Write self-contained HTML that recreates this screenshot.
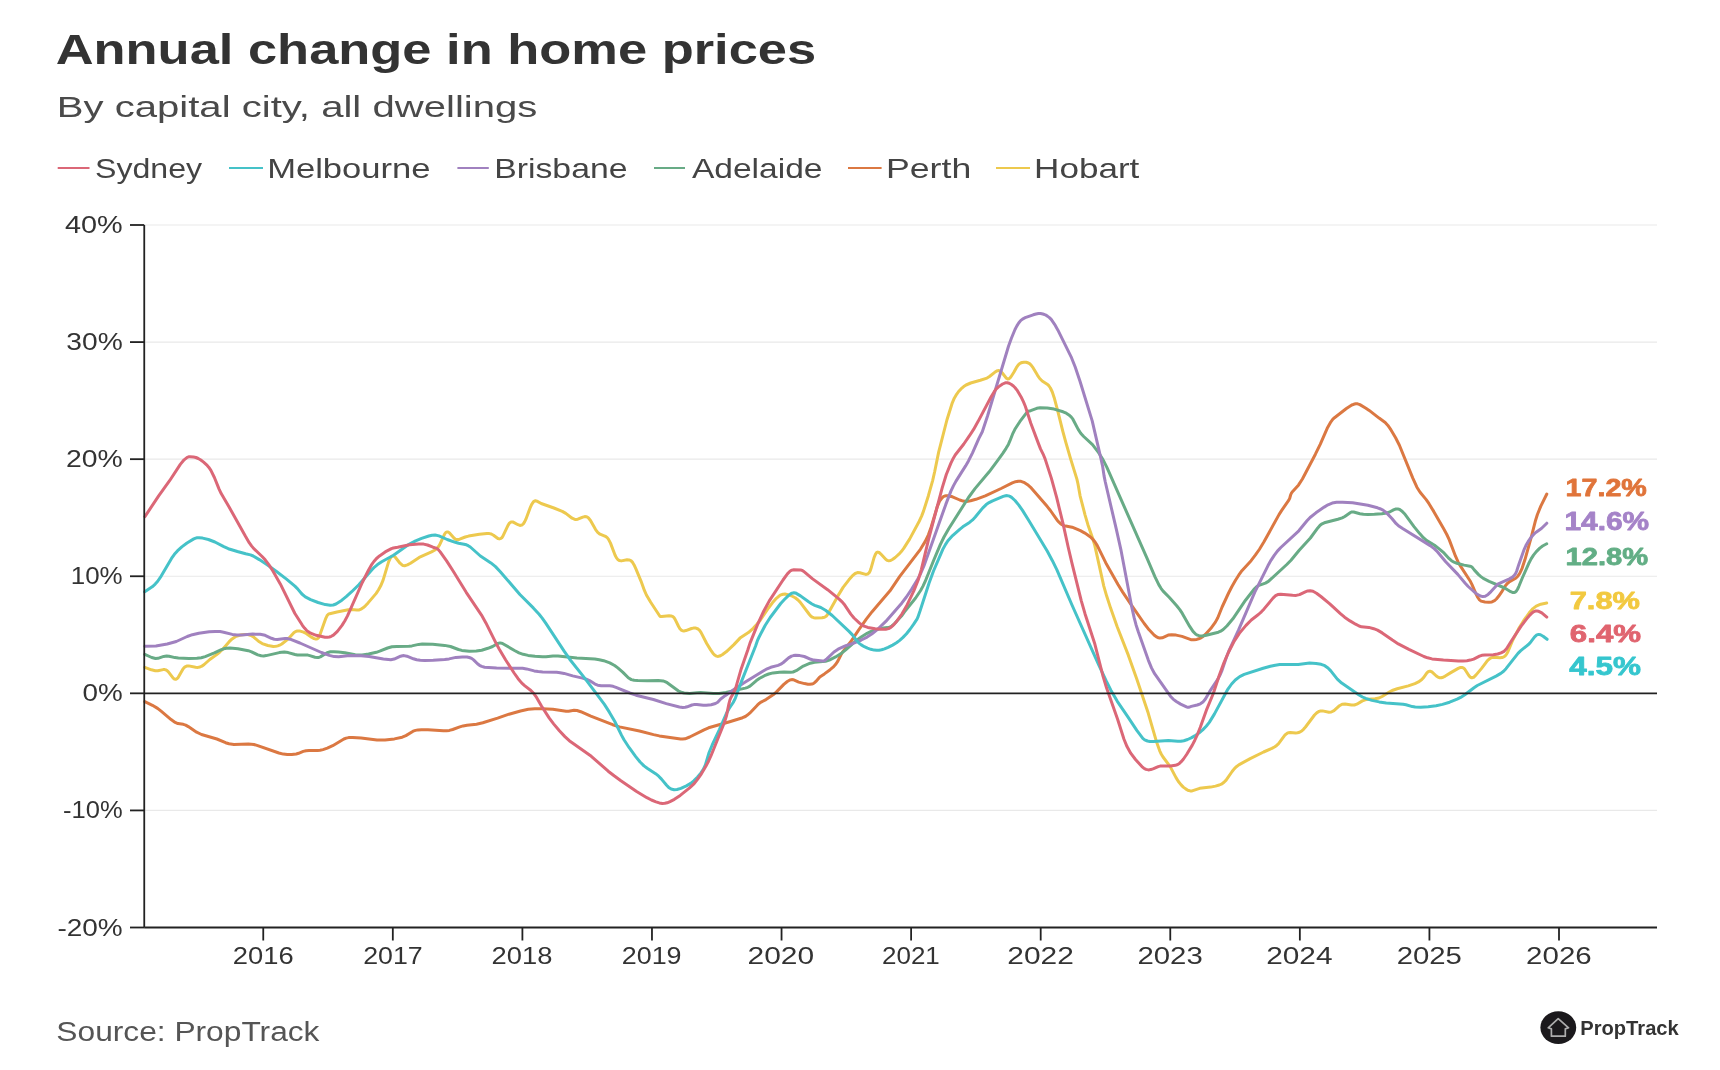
<!DOCTYPE html><html><head><meta charset="utf-8"><style>html,body{margin:0;padding:0;background:#fff;}svg{display:block;will-change:transform;}text{font-family:"Liberation Sans",sans-serif;}</style></head><body>
<svg width="1720" height="1070" viewBox="0 0 1720 1070">
<rect width="1720" height="1070" fill="#fff"/>
<text x="55.69" y="64.00" font-size="42.18" font-weight="bold" fill="#333" textLength="760.46" lengthAdjust="spacingAndGlyphs">Annual change in home prices</text>
<text x="56.69" y="116.50" font-size="30.40" fill="#4a4a4a" textLength="480.68" lengthAdjust="spacingAndGlyphs">By capital city, all dwellings</text>
<line x1="57.7" y1="168" x2="89.5" y2="168" stroke="#DB6777" stroke-width="2"/>
<text x="95.06" y="178.00" font-size="27.05" fill="#444" textLength="107.04" lengthAdjust="spacingAndGlyphs">Sydney</text>
<line x1="229" y1="168" x2="263" y2="168" stroke="#45C2C8" stroke-width="2"/>
<text x="267.15" y="178.00" font-size="27.05" fill="#444" textLength="163.33" lengthAdjust="spacingAndGlyphs">Melbourne</text>
<line x1="457.4" y1="168" x2="488.8" y2="168" stroke="#A081BF" stroke-width="2"/>
<text x="494.21" y="178.00" font-size="27.05" fill="#444" textLength="133.28" lengthAdjust="spacingAndGlyphs">Brisbane</text>
<line x1="654" y1="168" x2="685" y2="168" stroke="#68AB86" stroke-width="2"/>
<text x="691.92" y="178.00" font-size="27.05" fill="#444" textLength="130.58" lengthAdjust="spacingAndGlyphs">Adelaide</text>
<line x1="848" y1="168" x2="881.6" y2="168" stroke="#DB7842" stroke-width="2"/>
<text x="886.06" y="178.00" font-size="27.05" fill="#444" textLength="85.17" lengthAdjust="spacingAndGlyphs">Perth</text>
<line x1="996" y1="168" x2="1030" y2="168" stroke="#EDC94E" stroke-width="2"/>
<text x="1034.11" y="178.00" font-size="27.05" fill="#444" textLength="105.21" lengthAdjust="spacingAndGlyphs">Hobart</text>
<line x1="145.25" y1="225.00" x2="1657" y2="225.00" stroke="#e9e9e9" stroke-width="1.2"/>
<line x1="145.25" y1="342.08" x2="1657" y2="342.08" stroke="#e9e9e9" stroke-width="1.2"/>
<line x1="145.25" y1="459.17" x2="1657" y2="459.17" stroke="#e9e9e9" stroke-width="1.2"/>
<line x1="145.25" y1="576.25" x2="1657" y2="576.25" stroke="#e9e9e9" stroke-width="1.2"/>
<line x1="145.25" y1="810.42" x2="1657" y2="810.42" stroke="#e9e9e9" stroke-width="1.2"/>
<text x="65.05" y="233.00" font-size="23.27" fill="#333" textLength="57.73" lengthAdjust="spacingAndGlyphs">40%</text>
<line x1="130" y1="225.00" x2="144.25" y2="225.00" stroke="#222" stroke-width="1.8"/>
<text x="66.34" y="350.08" font-size="23.27" fill="#333" textLength="56.42" lengthAdjust="spacingAndGlyphs">30%</text>
<line x1="130" y1="342.08" x2="144.25" y2="342.08" stroke="#222" stroke-width="1.8"/>
<text x="65.98" y="467.17" font-size="23.27" fill="#333" textLength="56.78" lengthAdjust="spacingAndGlyphs">20%</text>
<line x1="130" y1="459.17" x2="144.25" y2="459.17" stroke="#222" stroke-width="1.8"/>
<text x="70.75" y="584.25" font-size="23.27" fill="#333" textLength="51.93" lengthAdjust="spacingAndGlyphs">10%</text>
<line x1="130" y1="576.25" x2="144.25" y2="576.25" stroke="#222" stroke-width="1.8"/>
<text x="82.59" y="701.33" font-size="23.27" fill="#333" textLength="40.20" lengthAdjust="spacingAndGlyphs">0%</text>
<line x1="130" y1="693.33" x2="144.25" y2="693.33" stroke="#222" stroke-width="1.8"/>
<text x="63.05" y="818.42" font-size="23.27" fill="#333" textLength="59.63" lengthAdjust="spacingAndGlyphs">-10%</text>
<line x1="130" y1="810.42" x2="144.25" y2="810.42" stroke="#222" stroke-width="1.8"/>
<text x="57.44" y="935.50" font-size="23.27" fill="#333" textLength="65.33" lengthAdjust="spacingAndGlyphs">-20%</text>
<line x1="130" y1="927.50" x2="144.25" y2="927.50" stroke="#222" stroke-width="1.8"/>
<line x1="263.25" y1="927.5" x2="263.25" y2="940.5" stroke="#222" stroke-width="1.8"/>
<text x="232.88" y="963.80" font-size="23.85" fill="#333" textLength="60.84" lengthAdjust="spacingAndGlyphs">2016</text>
<line x1="392.82" y1="927.5" x2="392.82" y2="940.5" stroke="#222" stroke-width="1.8"/>
<text x="363.16" y="963.80" font-size="23.85" fill="#333" textLength="59.48" lengthAdjust="spacingAndGlyphs">2017</text>
<line x1="522.40" y1="927.5" x2="522.40" y2="940.5" stroke="#222" stroke-width="1.8"/>
<text x="491.63" y="963.80" font-size="23.85" fill="#333" textLength="60.84" lengthAdjust="spacingAndGlyphs">2018</text>
<line x1="651.97" y1="927.5" x2="651.97" y2="940.5" stroke="#222" stroke-width="1.8"/>
<text x="621.76" y="963.80" font-size="23.85" fill="#333" textLength="59.81" lengthAdjust="spacingAndGlyphs">2019</text>
<line x1="781.55" y1="927.5" x2="781.55" y2="940.5" stroke="#222" stroke-width="1.8"/>
<text x="747.50" y="963.80" font-size="23.85" fill="#333" textLength="66.58" lengthAdjust="spacingAndGlyphs">2020</text>
<line x1="911.12" y1="927.5" x2="911.12" y2="940.5" stroke="#222" stroke-width="1.8"/>
<text x="882.00" y="963.80" font-size="23.85" fill="#333" textLength="57.79" lengthAdjust="spacingAndGlyphs">2021</text>
<line x1="1040.70" y1="927.5" x2="1040.70" y2="940.5" stroke="#222" stroke-width="1.8"/>
<text x="1007.31" y="963.80" font-size="23.85" fill="#333" textLength="66.45" lengthAdjust="spacingAndGlyphs">2022</text>
<line x1="1170.27" y1="927.5" x2="1170.27" y2="940.5" stroke="#222" stroke-width="1.8"/>
<text x="1137.43" y="963.80" font-size="23.85" fill="#333" textLength="65.28" lengthAdjust="spacingAndGlyphs">2023</text>
<line x1="1299.85" y1="927.5" x2="1299.85" y2="940.5" stroke="#222" stroke-width="1.8"/>
<text x="1266.21" y="963.80" font-size="23.85" fill="#333" textLength="66.27" lengthAdjust="spacingAndGlyphs">2024</text>
<line x1="1429.42" y1="927.5" x2="1429.42" y2="940.5" stroke="#222" stroke-width="1.8"/>
<text x="1396.73" y="963.80" font-size="23.85" fill="#333" textLength="65.20" lengthAdjust="spacingAndGlyphs">2025</text>
<line x1="1559.00" y1="927.5" x2="1559.00" y2="940.5" stroke="#222" stroke-width="1.8"/>
<text x="1526.13" y="963.80" font-size="23.85" fill="#333" textLength="65.59" lengthAdjust="spacingAndGlyphs">2026</text>
<path d="M144.8,667.4 L151.4,669.8 L155.3,670.7 L157.8,670.7 L163.2,669.6 L164.7,669.6 L166.1,670.0 L167.3,670.8 L168.4,671.8 L173.2,678.1 L174.4,679.0 L175.7,679.3 L177.0,678.7 L178.0,677.7 L182.7,669.4 L183.9,667.8 L185.0,666.8 L186.7,666.1 L188.7,665.9 L195.6,667.2 L198.0,667.4 L200.0,667.0 L201.8,666.2 L204.2,664.5 L209.8,659.5 L216.7,654.6 L219.8,652.0 L222.7,649.2 L229.2,641.7 L232.1,638.9 L235.4,636.7 L238.7,635.5 L241.6,634.8 L245.1,634.4 L247.6,634.5 L249.5,635.0 L251.4,635.7 L253.1,636.6 L259.3,641.8 L262.2,643.6 L267.9,645.5 L273.3,646.4 L275.8,646.3 L277.8,645.9 L279.6,645.2 L281.8,644.0 L287.7,639.4 L293.8,632.8 L295.4,631.6 L297.2,631.0 L300.2,631.1 L303.5,632.1 L306.2,633.4 L311.9,637.4 L314.1,638.6 L316.0,639.1 L317.3,638.8 L318.4,637.9 L319.4,636.2 L325.8,618.3 L327.1,615.6 L328.4,614.2 L329.7,613.7 L337.0,612.0 L348.3,609.8 L351.3,609.6 L356.8,610.1 L359.2,609.9 L361.0,609.1 L363.1,607.8 L365.4,605.8 L368.1,602.9 L376.2,593.4 L378.4,590.0 L380.6,586.1 L383.1,580.1 L388.6,561.9 L390.2,558.3 L391.7,556.4 L392.6,556.0 L393.4,556.0 L395.1,557.0 L400.0,563.2 L402.3,565.2 L403.1,565.5 L404.6,565.7 L407.4,564.9 L410.5,563.2 L419.2,557.4 L431.5,551.9 L434.1,550.5 L436.2,549.0 L437.9,547.3 L439.6,544.8 L444.7,533.9 L445.9,532.4 L447.2,531.9 L448.1,532.0 L449.3,532.7 L454.2,538.3 L455.4,539.2 L456.8,539.6 L458.2,539.6 L459.7,539.2 L465.2,537.0 L468.6,536.1 L479.4,534.2 L486.9,533.5 L489.4,533.6 L491.3,534.0 L493.5,535.2 L497.9,538.5 L499.3,538.9 L500.6,538.6 L501.8,537.8 L502.9,536.2 L508.0,525.3 L509.4,523.2 L510.5,522.3 L511.8,521.9 L513.2,522.1 L518.0,524.7 L519.9,525.4 L521.8,525.1 L523.3,523.9 L524.6,521.9 L525.9,519.2 L530.1,507.9 L531.7,504.3 L533.4,501.8 L534.6,501.0 L535.5,500.8 L536.9,501.1 L541.2,503.5 L553.9,508.0 L562.3,511.4 L565.8,513.4 L572.1,518.2 L574.4,519.2 L575.8,519.5 L577.8,519.2 L582.8,517.1 L584.7,516.6 L586.6,516.7 L588.3,517.8 L590.5,520.5 L595.6,529.6 L597.7,532.4 L600.0,534.2 L604.2,535.8 L606.0,536.7 L607.2,537.6 L608.4,539.1 L610.5,543.1 L615.1,555.2 L616.5,557.9 L617.7,559.4 L619.3,560.5 L621.3,560.9 L627.1,559.8 L629.1,559.9 L630.9,560.6 L632.6,562.4 L634.1,564.9 L635.8,568.6 L641.0,581.1 L644.4,590.4 L646.4,595.0 L650.7,602.3 L659.9,616.3 L660.5,616.5 L661.7,616.5 L669.1,615.7 L671.1,615.9 L672.9,616.7 L674.0,617.7 L675.1,619.3 L678.6,626.5 L679.9,628.7 L681.2,630.1 L682.5,630.8 L683.9,630.9 L685.9,630.6 L691.5,628.5 L693.4,628.1 L695.9,628.1 L698.1,629.0 L699.6,630.4 L701.0,632.4 L706.7,643.5 L710.6,649.9 L712.9,653.2 L714.6,655.1 L716.2,656.1 L717.6,656.4 L719.6,656.1 L722.2,654.7 L726.2,651.8 L733.9,644.6 L740.0,638.1 L748.4,632.6 L753.2,628.3 L756.9,624.3 L760.4,620.0 L768.5,608.0 L772.4,602.8 L776.4,598.3 L780.2,595.1 L783.0,594.2 L785.0,594.1 L787.0,594.4 L791.3,595.7 L795.2,597.8 L798.0,600.0 L800.1,602.1 L809.4,614.5 L810.7,616.0 L812.3,617.2 L813.7,617.7 L815.6,617.9 L822.1,617.7 L824.5,617.2 L826.2,616.2 L827.4,614.7 L837.9,595.9 L843.1,587.4 L848.9,579.8 L852.5,575.7 L855.2,573.5 L857.5,572.6 L859.9,572.8 L865.7,574.4 L867.6,574.1 L869.0,572.9 L870.0,571.2 L870.9,568.8 L874.0,557.8 L875.5,554.1 L876.6,552.5 L877.8,552.1 L879.1,552.5 L880.6,553.8 L885.7,559.3 L887.3,560.4 L888.7,560.8 L890.6,560.5 L892.8,559.3 L895.2,557.5 L898.9,554.2 L901.3,551.6 L903.7,548.4 L909.6,539.1 L919.1,521.5 L921.6,516.1 L923.6,510.9 L928.4,495.7 L932.7,480.3 L934.6,472.0 L938.6,452.4 L946.9,420.0 L952.3,402.8 L954.3,398.2 L956.6,394.3 L958.6,391.5 L961.0,388.9 L963.7,386.6 L966.1,385.0 L970.7,383.0 L980.3,380.3 L987.0,378.1 L989.5,376.5 L995.3,371.8 L997.5,370.7 L998.9,370.6 L1000.7,371.4 L1002.1,372.8 L1006.4,378.2 L1007.7,378.9 L1009.0,378.7 L1010.1,377.9 L1011.0,376.7 L1013.7,372.5 L1016.9,366.8 L1018.3,364.8 L1019.4,363.8 L1020.7,363.0 L1022.1,362.5 L1024.0,362.2 L1026.0,362.2 L1027.9,362.8 L1029.6,363.7 L1031.1,365.1 L1033.2,367.9 L1037.7,375.6 L1039.7,378.5 L1042.2,381.0 L1046.8,383.9 L1048.7,385.5 L1050.4,388.0 L1052.3,392.0 L1054.2,397.7 L1057.6,410.3 L1062.9,431.6 L1065.9,442.7 L1070.7,459.1 L1076.9,479.1 L1078.0,484.0 L1080.1,495.8 L1085.1,515.1 L1087.9,524.7 L1092.7,538.5 L1094.6,544.7 L1103.8,586.1 L1106.6,595.8 L1110.6,608.1 L1117.1,626.5 L1128.4,655.4 L1136.6,678.5 L1148.2,713.1 L1156.4,741.4 L1159.7,750.8 L1161.2,754.0 L1163.0,757.0 L1170.2,766.6 L1176.0,777.6 L1178.4,781.5 L1180.9,784.6 L1183.3,787.1 L1185.7,788.9 L1187.8,790.2 L1190.2,790.9 L1192.1,790.9 L1199.7,788.3 L1210.6,787.1 L1215.5,786.1 L1219.3,785.0 L1222.0,783.8 L1224.0,782.3 L1226.1,780.1 L1232.1,771.5 L1234.2,768.8 L1236.4,766.7 L1238.8,764.9 L1250.2,758.6 L1263.6,752.0 L1271.9,748.4 L1274.9,746.7 L1276.9,745.2 L1278.4,743.8 L1284.3,735.8 L1285.7,734.4 L1287.3,733.2 L1288.7,732.7 L1290.2,732.5 L1295.7,732.9 L1297.6,732.8 L1299.5,732.3 L1301.7,731.0 L1303.5,729.3 L1305.5,727.0 L1314.5,715.0 L1317.0,712.6 L1319.1,711.4 L1320.5,711.0 L1322.5,710.9 L1328.9,712.2 L1331.3,712.0 L1334.0,710.7 L1339.5,705.7 L1342.1,704.3 L1345.1,704.0 L1351.5,705.0 L1354.4,705.0 L1356.8,704.2 L1362.4,700.9 L1365.2,699.8 L1368.1,699.3 L1375.1,698.8 L1379.0,698.0 L1382.1,696.5 L1389.3,692.0 L1392.9,690.2 L1397.2,688.8 L1408.3,685.9 L1414.9,683.6 L1418.5,681.9 L1421.8,679.6 L1423.4,677.8 L1426.9,672.9 L1428.0,671.9 L1429.2,671.2 L1430.6,671.3 L1431.9,671.9 L1436.3,676.0 L1437.9,677.1 L1439.8,677.8 L1441.2,677.8 L1443.1,677.2 L1444.9,676.3 L1450.4,672.9 L1458.2,668.4 L1460.0,667.6 L1462.0,667.5 L1463.3,667.9 L1464.8,669.2 L1468.8,675.5 L1470.1,677.0 L1470.9,677.5 L1471.8,677.8 L1473.6,677.3 L1476.1,674.9 L1481.6,668.4 L1486.7,661.6 L1488.3,659.8 L1489.9,658.5 L1491.6,657.6 L1493.5,657.2 L1500.0,657.7 L1502.0,657.6 L1503.8,656.9 L1505.4,655.7 L1506.6,654.1 L1507.8,652.0 L1512.8,640.0 L1518.6,628.9 L1523.3,621.2 L1529.1,613.1 L1533.0,608.6 L1536.2,606.1 L1540.8,604.2 L1546.7,603.0" fill="none" stroke="#EDC94E" stroke-width="3.0" stroke-linejoin="round" stroke-linecap="round"/>
<path d="M144.8,701.6 L152.4,705.3 L157.6,708.4 L161.1,711.2 L171.1,719.6 L175.2,722.4 L177.9,723.6 L183.3,724.3 L185.7,725.1 L188.3,726.6 L196.6,732.2 L201.5,734.5 L216.9,739.0 L225.6,742.7 L229.0,743.8 L233.9,744.4 L248.4,744.0 L253.9,744.5 L257.7,745.6 L278.9,753.0 L283.3,754.1 L287.3,754.6 L291.7,754.6 L296.2,754.0 L298.6,753.3 L303.2,751.4 L306.1,750.7 L309.1,750.5 L317.6,750.5 L320.1,750.3 L323.0,749.6 L327.3,748.1 L332.7,745.7 L343.9,739.0 L346.2,738.1 L348.6,737.6 L352.6,737.5 L361.1,738.1 L377.0,740.0 L385.0,740.0 L394.4,738.9 L402.2,737.2 L405.9,735.6 L413.1,731.2 L415.5,730.4 L418.0,729.9 L421.4,729.7 L427.9,729.7 L443.4,730.8 L446.4,730.8 L449.4,730.4 L452.7,729.5 L459.8,726.9 L463.1,725.9 L467.0,725.2 L476.5,724.2 L482.8,722.8 L497.6,718.1 L509.0,714.2 L520.5,711.0 L528.3,709.3 L534.8,708.7 L542.3,708.7 L552.8,709.3 L566.1,711.3 L568.6,711.2 L574.0,710.3 L577.0,710.5 L580.8,711.7 L590.8,716.2 L612.7,724.7 L619.4,726.9 L639.5,731.0 L653.5,734.6 L659.4,735.9 L680.6,739.1 L682.6,739.1 L685.1,738.8 L689.7,737.0 L704.0,729.8 L708.6,727.8 L729.7,721.7 L742.6,717.7 L745.4,716.5 L747.4,715.1 L749.7,713.2 L757.3,705.2 L759.5,703.2 L761.1,702.1 L766.0,699.6 L773.1,694.8 L776.5,691.9 L783.8,684.4 L787.3,681.5 L789.9,680.0 L791.8,679.6 L793.2,679.7 L798.7,682.1 L804.5,683.6 L807.9,684.2 L809.9,684.3 L811.9,684.1 L813.3,683.6 L814.5,682.8 L815.9,681.4 L819.8,676.9 L824.4,673.9 L830.1,669.7 L833.1,667.2 L835.5,664.6 L837.5,661.7 L841.1,654.6 L842.9,651.6 L850.7,641.8 L858.2,630.6 L866.3,619.2 L872.1,611.7 L890.0,590.8 L899.6,576.7 L920.4,549.3 L925.1,541.6 L928.4,534.8 L931.1,527.3 L937.4,506.3 L939.6,501.2 L941.9,498.0 L943.4,496.7 L944.8,496.0 L946.2,495.7 L947.7,495.7 L952.5,496.8 L959.8,500.0 L963.2,501.1 L966.6,501.4 L970.6,500.8 L975.9,499.3 L985.3,495.9 L1001.1,488.5 L1012.3,482.9 L1015.6,481.7 L1018.5,481.2 L1021.0,481.3 L1023.8,482.3 L1027.6,484.7 L1030.6,487.3 L1047.3,506.6 L1050.4,510.5 L1057.0,519.9 L1059.0,522.2 L1060.8,523.9 L1063.8,525.6 L1065.7,526.1 L1072.1,527.2 L1080.4,530.7 L1084.4,532.8 L1087.7,535.0 L1090.9,537.4 L1093.0,539.5 L1095.2,542.3 L1097.3,545.6 L1105.7,562.7 L1118.0,584.5 L1122.7,592.1 L1131.6,605.4 L1144.2,623.5 L1149.1,629.8 L1154.3,635.2 L1157.1,637.2 L1158.5,637.8 L1159.9,638.1 L1162.3,637.8 L1168.2,635.1 L1171.6,634.7 L1176.1,635.1 L1182.0,636.4 L1190.9,639.7 L1193.8,639.8 L1196.8,639.4 L1198.7,638.8 L1201.0,637.8 L1203.0,636.4 L1205.3,634.4 L1210.7,628.6 L1215.4,622.1 L1217.8,617.7 L1222.1,607.0 L1228.6,593.0 L1231.8,586.7 L1235.5,580.2 L1238.7,575.2 L1241.9,570.7 L1251.1,560.7 L1255.3,555.2 L1259.3,549.5 L1264.0,541.8 L1279.0,514.6 L1281.7,510.4 L1288.8,500.2 L1289.7,498.4 L1290.6,495.0 L1291.4,493.2 L1292.9,491.2 L1298.6,484.9 L1302.4,479.0 L1315.4,454.2 L1320.2,444.3 L1327.2,428.3 L1330.9,421.8 L1332.7,419.4 L1334.5,417.7 L1346.4,408.5 L1351.8,405.0 L1353.7,404.3 L1355.6,403.8 L1357.6,403.8 L1359.9,404.6 L1365.9,408.2 L1369.2,410.4 L1379.1,418.1 L1385.2,422.4 L1387.9,425.4 L1391.0,429.9 L1395.6,437.7 L1399.4,445.2 L1412.8,478.1 L1416.9,487.2 L1420.1,492.3 L1426.2,499.6 L1429.0,503.7 L1433.7,511.4 L1443.4,528.3 L1446.8,534.5 L1449.3,539.9 L1455.5,556.2 L1458.2,562.2 L1461.0,566.9 L1470.0,580.7 L1472.0,584.7 L1476.2,594.4 L1477.8,597.5 L1479.5,599.9 L1481.1,601.1 L1484.9,602.0 L1488.9,602.3 L1491.9,601.9 L1494.5,600.7 L1496.4,599.0 L1498.6,596.3 L1501.5,592.2 L1505.4,585.8 L1507.3,583.5 L1509.6,581.6 L1515.7,578.3 L1517.8,576.2 L1519.6,573.7 L1522.1,568.3 L1524.9,559.8 L1531.4,536.7 L1535.6,520.2 L1537.4,514.5 L1540.8,506.1 L1546.8,494.0" fill="none" stroke="#DB7842" stroke-width="3.0" stroke-linejoin="round" stroke-linecap="round"/>
<path d="M144.8,654.4 L151.7,657.5 L155.5,658.5 L158.0,658.3 L163.7,656.4 L166.6,656.0 L169.1,656.2 L174.9,657.6 L178.4,658.0 L188.9,658.4 L196.9,658.3 L201.3,657.7 L205.2,656.6 L214.4,652.9 L220.8,649.9 L223.6,648.8 L226.5,648.2 L230.0,648.0 L237.9,648.7 L248.3,650.7 L251.6,651.8 L257.8,654.9 L261.2,655.8 L263.7,655.9 L266.2,655.6 L279.3,652.6 L284.3,652.1 L288.2,652.6 L295.0,654.5 L297.4,655.0 L307.9,655.1 L309.8,655.6 L315.0,657.3 L317.5,657.6 L318.9,657.4 L320.3,656.9 L327.1,652.7 L330.4,651.8 L333.9,651.7 L338.4,652.0 L344.9,652.7 L355.2,654.8 L358.2,655.0 L362.1,654.9 L368.6,654.0 L376.4,652.3 L379.7,651.2 L387.6,648.0 L391.9,646.8 L396.9,646.4 L408.9,646.3 L411.9,645.9 L418.7,644.4 L422.2,644.1 L432.7,644.3 L444.6,645.4 L450.5,646.5 L458.4,649.5 L461.8,650.4 L469.3,651.2 L476.3,651.1 L481.7,650.2 L487.9,648.3 L492.6,646.5 L497.7,643.5 L500.1,642.9 L501.5,643.2 L502.9,643.7 L514.5,650.5 L519.0,652.8 L523.2,654.3 L528.1,655.4 L535.0,656.3 L542.5,656.8 L546.0,656.7 L553.0,656.0 L558.0,656.0 L576.9,658.0 L594.8,659.0 L599.3,659.7 L603.7,660.7 L609.8,662.9 L614.6,665.5 L617.8,667.9 L622.7,672.1 L628.3,677.8 L631.3,679.6 L634.2,680.3 L637.7,680.6 L647.2,680.8 L658.2,680.4 L663.1,680.9 L665.0,681.6 L667.2,682.7 L678.5,691.0 L681.2,692.2 L684.1,693.0 L689.6,693.5 L697.0,692.7 L700.5,692.5 L713.5,693.5 L719.0,693.4 L725.9,692.4 L745.4,688.1 L747.8,687.3 L750.0,686.1 L756.4,680.6 L759.7,678.3 L764.5,675.7 L768.7,674.0 L773.1,672.9 L779.5,672.2 L784.0,671.9 L790.5,672.3 L793.0,672.0 L796.2,670.7 L803.3,666.1 L810.2,663.2 L814.6,662.2 L825.5,661.3 L829.3,660.1 L835.6,656.9 L841.9,652.9 L845.4,650.1 L855.9,640.8 L861.6,636.7 L867.1,633.3 L871.1,631.3 L875.4,629.8 L883.2,628.1 L887.6,627.6 L889.6,627.2 L891.8,626.0 L894.4,623.8 L901.5,616.1 L904.3,612.1 L915.6,598.0 L920.6,590.5 L923.0,586.1 L925.3,581.2 L933.7,560.3 L940.3,544.6 L944.0,537.0 L948.7,528.7 L968.5,497.5 L975.0,488.6 L989.2,471.8 L997.0,461.4 L1002.8,453.3 L1006.1,448.3 L1008.4,444.4 L1010.0,440.7 L1012.9,433.3 L1014.9,429.3 L1019.8,421.7 L1026.1,413.3 L1028.1,411.3 L1030.7,410.7 L1036.8,408.3 L1040.2,407.7 L1047.2,407.9 L1054.1,409.1 L1063.1,411.8 L1066.3,413.2 L1068.9,414.9 L1071.1,416.9 L1072.9,419.2 L1078.2,429.4 L1080.7,433.2 L1083.7,436.5 L1092.5,444.7 L1098.0,451.8 L1103.1,459.8 L1106.9,467.4 L1147.3,558.9 L1155.0,576.8 L1158.9,584.9 L1161.0,588.3 L1163.1,591.1 L1169.4,597.5 L1176.7,605.7 L1179.8,609.6 L1182.3,613.4 L1189.7,626.4 L1193.0,631.4 L1195.8,634.2 L1197.5,635.2 L1199.0,635.7 L1202.4,636.0 L1206.3,635.3 L1218.4,632.2 L1220.7,631.2 L1223.2,629.5 L1227.1,625.7 L1232.9,618.8 L1245.5,600.2 L1254.5,588.8 L1256.3,587.0 L1258.3,585.6 L1265.4,583.1 L1268.4,581.4 L1286.8,564.5 L1291.0,560.2 L1299.2,550.2 L1310.4,538.0 L1317.8,527.9 L1320.1,525.3 L1322.1,523.8 L1324.3,522.8 L1337.9,519.3 L1342.2,517.9 L1344.8,516.5 L1350.5,512.5 L1351.8,511.9 L1353.7,512.0 L1359.9,513.7 L1363.4,514.3 L1367.9,514.5 L1374.4,514.3 L1381.8,513.7 L1386.8,513.0 L1389.1,512.2 L1394.0,509.6 L1395.9,509.0 L1397.8,508.9 L1399.7,509.5 L1401.7,510.9 L1404.5,513.7 L1414.0,526.6 L1419.7,533.6 L1423.4,537.7 L1426.8,540.6 L1434.5,545.3 L1440.4,549.9 L1444.2,553.2 L1449.2,558.7 L1451.5,560.7 L1454.1,562.2 L1456.9,563.3 L1464.1,565.1 L1470.0,566.2 L1471.4,566.7 L1472.1,567.2 L1474.2,569.9 L1478.6,574.6 L1480.9,576.6 L1483.3,578.4 L1489.1,581.3 L1504.7,588.0 L1510.7,591.7 L1513.0,592.6 L1514.4,592.5 L1515.2,592.1 L1516.3,591.1 L1517.4,589.5 L1518.9,586.3 L1522.3,578.0 L1528.6,563.8 L1531.1,558.9 L1533.5,555.1 L1536.3,551.6 L1539.8,548.1 L1542.6,546.0 L1546.7,543.8" fill="none" stroke="#68AB86" stroke-width="3.0" stroke-linejoin="round" stroke-linecap="round"/>
<path d="M144.8,646.3 L155.9,646.0 L167.2,644.0 L176.3,641.5 L187.2,636.5 L192.4,634.7 L198.8,633.2 L209.2,631.8 L215.2,631.4 L220.1,631.6 L223.6,632.2 L232.3,634.4 L236.8,635.0 L241.8,634.9 L252.7,634.1 L260.2,634.3 L265.1,635.3 L271.4,638.3 L274.3,639.2 L277.2,639.4 L285.2,638.4 L287.7,638.6 L290.1,639.2 L299.9,643.0 L321.4,652.5 L329.3,655.4 L334.2,656.6 L338.7,656.8 L349.6,655.6 L361.1,655.8 L369.1,656.5 L383.4,658.9 L390.8,659.7 L394.2,659.1 L400.6,656.2 L402.5,655.7 L404.0,655.6 L406.9,656.2 L413.4,658.8 L416.7,659.8 L420.2,660.3 L424.7,660.5 L433.2,660.3 L444.7,659.5 L449.1,658.9 L455.9,657.4 L462.4,656.9 L466.9,657.0 L469.3,657.5 L471.6,658.4 L473.6,659.9 L477.5,663.8 L479.5,665.3 L481.7,666.4 L484.6,667.2 L496.6,668.0 L522.6,668.3 L526.5,668.9 L534.2,670.9 L538.2,671.6 L542.7,671.9 L556.7,672.3 L560.1,672.7 L564.1,673.4 L572.7,675.9 L582.5,678.1 L586.3,679.2 L589.5,680.6 L595.0,684.1 L597.7,685.2 L601.2,685.7 L609.7,685.8 L613.1,686.3 L616.0,687.3 L629.8,693.0 L636.0,695.2 L653.4,699.5 L666.3,703.6 L679.4,707.0 L682.8,707.4 L685.3,707.3 L687.2,706.8 L691.9,705.0 L693.8,704.6 L696.8,704.5 L703.3,705.3 L706.3,705.3 L711.2,704.7 L715.5,703.5 L717.7,702.3 L720.7,699.0 L725.5,695.4 L735.3,688.5 L744.9,682.3 L762.8,671.2 L767.1,668.8 L770.8,667.3 L778.1,665.4 L780.8,664.2 L783.3,662.5 L788.6,657.9 L791.6,656.1 L793.5,655.6 L795.5,655.3 L799.9,655.6 L804.3,656.5 L810.8,659.3 L813.6,660.1 L822.5,661.1 L824.4,660.7 L826.8,658.9 L834.0,652.0 L838.1,649.2 L845.8,645.7 L854.4,642.9 L861.3,640.0 L867.1,637.1 L871.7,634.1 L877.9,629.0 L885.8,621.4 L901.9,602.9 L906.4,597.0 L911.7,589.1 L917.2,580.1 L920.7,573.5 L924.0,565.7 L945.8,504.4 L951.0,490.9 L953.4,485.9 L956.0,481.1 L965.6,465.9 L968.6,460.7 L972.4,453.1 L978.9,438.4 L982.3,431.8 L987.6,415.7 L1008.5,346.2 L1011.4,338.2 L1015.0,329.5 L1016.9,325.9 L1018.7,323.0 L1020.6,320.6 L1022.5,319.1 L1025.2,317.7 L1033.2,314.8 L1036.0,314.0 L1038.5,313.5 L1040.5,313.5 L1042.9,314.0 L1045.3,314.8 L1047.4,316.1 L1049.4,317.6 L1051.2,319.4 L1054.6,324.3 L1057.8,329.9 L1071.5,357.7 L1075.2,367.0 L1080.0,381.2 L1092.2,420.9 L1101.0,458.9 L1102.7,466.7 L1104.1,476.1 L1105.3,482.0 L1116.3,529.2 L1121.1,550.7 L1131.9,607.7 L1134.2,617.9 L1136.0,624.7 L1138.3,631.8 L1148.3,660.1 L1151.5,667.9 L1154.6,673.7 L1170.4,696.2 L1173.1,699.1 L1176.3,701.5 L1180.6,704.1 L1186.5,706.8 L1187.8,707.3 L1188.7,707.3 L1191.3,706.4 L1197.2,705.0 L1200.4,703.8 L1202.9,702.1 L1205.4,699.0 L1209.9,691.2 L1217.9,679.1 L1220.0,675.1 L1221.6,671.5 L1226.6,656.8 L1228.8,651.2 L1238.6,629.9 L1254.8,592.2 L1267.9,565.8 L1271.1,560.1 L1274.4,555.1 L1277.4,551.1 L1280.8,547.5 L1298.8,530.8 L1307.0,520.8 L1310.1,517.5 L1315.9,512.8 L1324.2,507.1 L1328.0,504.8 L1332.2,503.1 L1336.6,502.3 L1342.6,502.2 L1352.6,502.7 L1367.9,505.2 L1377.5,507.8 L1380.8,509.0 L1383.0,510.1 L1385.1,511.6 L1387.3,513.6 L1392.1,518.7 L1396.2,523.7 L1399.2,526.3 L1403.0,528.8 L1430.2,545.6 L1434.2,548.6 L1437.4,551.8 L1445.7,561.8 L1457.8,574.4 L1465.2,583.2 L1468.2,586.5 L1473.8,591.5 L1477.3,594.3 L1480.4,596.0 L1482.8,596.6 L1485.2,596.2 L1488.1,594.4 L1491.0,591.6 L1497.7,584.2 L1509.5,578.9 L1512.5,577.1 L1514.3,575.3 L1515.7,573.3 L1516.7,571.0 L1519.0,563.9 L1524.2,549.3 L1525.9,545.6 L1528.1,541.7 L1531.2,537.2 L1534.2,533.8 L1536.1,532.2 L1541.4,528.5 L1546.8,523.2" fill="none" stroke="#A081BF" stroke-width="3.0" stroke-linejoin="round" stroke-linecap="round"/>
<path d="M144.7,591.8 L152.2,586.8 L155.2,584.1 L157.5,581.5 L161.2,576.1 L171.5,558.4 L174.4,554.3 L177.4,550.9 L181.8,546.9 L187.0,543.0 L193.8,538.9 L195.7,538.1 L197.1,537.7 L199.1,537.7 L202.6,538.1 L208.4,539.5 L214.9,542.0 L223.8,546.7 L228.3,548.7 L237.4,551.5 L245.6,553.8 L250.5,554.9 L253.2,556.0 L259.3,559.6 L267.2,564.8 L276.5,571.5 L286.5,579.1 L294.9,586.1 L297.4,588.6 L301.9,594.0 L305.3,596.8 L310.6,599.6 L318.1,602.5 L325.3,604.6 L330.2,605.2 L333.2,605.0 L336.0,604.0 L341.9,600.2 L346.2,596.7 L351.7,591.7 L358.8,584.7 L371.7,570.0 L374.8,566.8 L377.5,564.6 L381.7,561.8 L393.5,555.3 L409.0,544.3 L415.6,540.8 L421.6,538.4 L428.8,536.0 L432.1,535.2 L435.1,535.0 L439.0,535.9 L447.2,539.5 L455.3,542.3 L458.6,543.3 L464.0,544.2 L466.4,544.8 L468.2,545.7 L470.3,547.0 L480.4,556.0 L490.9,562.9 L495.5,566.6 L500.3,571.7 L519.9,594.5 L533.3,607.9 L539.1,614.2 L542.2,618.1 L545.9,623.4 L564.3,651.4 L569.7,659.2 L584.9,678.4 L604.4,704.4 L609.5,712.4 L614.8,721.5 L621.6,735.4 L624.0,739.8 L629.2,747.7 L635.7,756.6 L640.1,762.0 L644.0,765.9 L647.2,768.3 L655.6,773.7 L658.7,776.2 L661.5,779.1 L666.6,785.3 L668.7,787.4 L671.2,789.0 L674.1,789.7 L677.0,789.5 L680.9,788.4 L686.4,785.9 L690.7,783.4 L693.8,780.9 L697.6,777.0 L700.8,773.1 L703.3,769.4 L705.4,764.9 L708.8,753.3 L712.2,745.0 L719.4,729.6 L726.8,712.7 L729.0,708.7 L733.2,702.5 L735.4,698.1 L741.6,681.1 L755.5,646.3 L757.4,640.7 L759.1,637.0 L765.1,625.5 L770.2,617.5 L780.7,603.5 L784.4,599.5 L788.4,595.6 L790.3,594.1 L792.0,593.1 L793.9,592.7 L795.4,592.9 L800.5,595.9 L808.6,601.8 L812.0,604.0 L814.7,605.3 L820.8,607.5 L825.5,610.2 L832.2,615.5 L849.3,631.6 L852.4,634.9 L856.9,640.8 L858.9,643.1 L861.3,644.9 L864.3,646.7 L867.5,648.2 L870.8,649.3 L874.2,650.1 L876.7,650.3 L879.1,650.2 L881.6,649.8 L884.5,648.9 L888.1,647.4 L892.6,645.1 L896.5,642.8 L899.7,640.4 L903.0,637.4 L906.5,633.8 L909.9,629.5 L913.7,624.2 L917.0,619.2 L917.8,617.4 L920.1,610.8 L929.0,583.2 L933.5,571.0 L942.8,549.4 L945.4,544.6 L947.9,540.8 L952.6,535.6 L959.7,529.3 L962.8,526.8 L969.5,522.4 L972.6,519.9 L975.3,517.0 L982.6,508.1 L986.2,504.6 L989.1,502.6 L992.6,500.8 L1003.2,496.4 L1005.6,495.7 L1007.1,495.6 L1008.6,495.9 L1009.9,496.4 L1011.6,497.4 L1015.0,500.5 L1018.8,505.1 L1022.5,510.4 L1029.1,521.0 L1047.2,551.0 L1052.4,560.7 L1056.8,569.7 L1072.2,605.5 L1098.5,664.4 L1106.1,680.7 L1111.0,690.5 L1117.3,701.3 L1127.7,716.6 L1136.8,730.4 L1142.8,738.4 L1144.7,739.9 L1147.5,741.0 L1149.9,741.4 L1153.4,741.5 L1168.4,740.6 L1177.8,741.3 L1180.8,741.3 L1183.8,740.7 L1187.6,739.5 L1191.2,737.9 L1194.7,735.9 L1198.9,733.1 L1202.7,729.9 L1206.2,726.3 L1209.3,722.4 L1214.5,713.9 L1227.8,689.3 L1231.6,684.0 L1235.3,680.0 L1239.7,676.6 L1244.2,674.4 L1263.2,668.3 L1270.4,666.2 L1275.3,665.2 L1279.8,664.6 L1286.3,664.4 L1298.2,664.5 L1309.6,663.1 L1316.1,663.4 L1321.1,664.3 L1324.8,665.7 L1328.0,668.0 L1330.8,670.9 L1337.3,679.1 L1341.7,683.1 L1359.1,695.0 L1362.5,697.0 L1365.7,698.4 L1371.9,700.4 L1379.2,701.9 L1386.2,702.9 L1403.1,704.2 L1406.0,704.7 L1412.3,706.6 L1415.2,707.1 L1420.7,707.3 L1428.2,706.8 L1436.1,705.8 L1442.5,704.4 L1449.6,702.2 L1457.1,699.2 L1460.6,697.4 L1464.8,694.7 L1474.0,687.7 L1477.3,685.5 L1496.1,676.1 L1500.8,673.4 L1503.6,671.2 L1506.0,668.7 L1518.0,653.3 L1520.5,650.9 L1529.0,644.0 L1531.0,641.7 L1534.6,636.9 L1536.8,634.9 L1538.6,634.4 L1540.5,634.8 L1543.1,636.2 L1547.1,639.3" fill="none" stroke="#45C2C8" stroke-width="3.0" stroke-linejoin="round" stroke-linecap="round"/>
<path d="M144.9,516.6 L158.5,496.2 L169.6,480.7 L180.3,464.4 L184.1,459.8 L187.2,457.3 L188.6,456.8 L190.0,456.7 L193.5,457.0 L195.9,457.5 L198.2,458.5 L200.8,460.0 L203.6,462.1 L206.6,464.8 L208.9,467.4 L210.9,470.3 L214.4,477.5 L219.1,489.1 L221.2,493.6 L229.1,507.0 L245.6,536.6 L249.2,542.7 L251.5,545.9 L253.8,548.6 L262.1,556.5 L265.2,559.8 L268.8,564.6 L272.9,570.9 L280.3,583.9 L294.9,613.5 L302.4,625.3 L304.5,628.1 L306.5,630.3 L308.5,631.9 L310.6,633.2 L316.2,635.3 L325.0,637.3 L327.4,637.3 L329.4,637.0 L331.3,636.3 L333.4,635.1 L337.4,631.3 L342.0,625.4 L344.9,620.7 L347.5,615.9 L362.3,582.5 L368.6,570.0 L371.3,565.2 L373.9,561.5 L376.5,558.5 L379.5,555.9 L385.2,551.9 L391.4,548.6 L393.3,548.0 L397.7,547.3 L409.6,544.8 L418.6,544.0 L423.6,544.1 L427.5,545.0 L433.0,547.2 L436.8,548.4 L438.3,549.6 L440.2,551.9 L446.6,560.9 L453.1,571.0 L466.2,592.3 L481.5,615.1 L485.9,622.9 L496.0,643.1 L499.3,649.2 L505.7,660.0 L514.1,673.0 L518.1,678.7 L521.6,682.9 L524.6,685.6 L530.9,690.5 L534.0,693.8 L536.0,696.6 L541.3,705.7 L549.1,717.9 L553.6,723.9 L559.4,730.8 L564.9,736.6 L569.3,740.7 L591.3,756.3 L608.2,771.2 L614.1,775.8 L620.9,780.8 L636.6,791.5 L646.9,797.7 L651.4,800.0 L656.0,801.8 L659.3,802.9 L662.3,803.4 L664.8,803.3 L667.2,802.8 L670.0,801.6 L674.4,799.3 L680.2,795.4 L689.6,787.9 L693.6,784.2 L697.1,779.9 L701.4,773.8 L705.7,766.5 L708.5,761.2 L711.0,755.7 L724.3,722.8 L726.4,716.1 L728.9,703.9 L729.9,700.0 L731.1,697.2 L734.3,691.6 L735.6,688.4 L741.1,669.2 L747.7,650.3 L750.0,643.1 L757.5,624.6 L763.8,611.0 L769.3,600.9 L783.0,580.0 L787.4,573.9 L790.2,571.0 L791.9,570.1 L793.8,569.7 L800.7,570.0 L802.1,570.4 L803.4,571.2 L812.6,578.9 L827.6,589.7 L838.9,598.8 L841.8,601.6 L844.1,604.2 L850.8,614.1 L854.0,618.0 L859.5,623.1 L861.9,624.9 L864.1,626.1 L867.8,627.4 L875.2,628.7 L881.2,629.3 L885.7,629.3 L888.6,628.6 L890.8,627.4 L893.4,625.1 L896.4,621.7 L901.9,614.0 L907.1,604.9 L913.8,590.9 L918.3,579.8 L921.4,569.3 L928.5,539.6 L942.2,487.9 L946.3,474.5 L950.8,463.4 L953.2,458.4 L955.2,455.0 L963.8,444.0 L969.5,435.7 L973.6,429.4 L978.0,421.6 L990.9,397.3 L994.2,391.7 L996.3,388.9 L998.5,386.9 L1002.6,384.0 L1005.3,382.8 L1007.3,382.8 L1009.2,383.3 L1011.4,384.5 L1013.4,386.0 L1015.1,387.7 L1017.0,390.1 L1021.1,396.9 L1023.5,401.9 L1025.4,406.5 L1030.8,423.2 L1037.8,441.9 L1040.5,448.9 L1043.6,455.2 L1045.1,458.9 L1051.4,478.4 L1056.7,497.7 L1063.1,523.9 L1068.1,546.8 L1072.0,563.4 L1081.3,600.8 L1085.0,613.7 L1094.6,643.2 L1103.0,676.1 L1106.6,688.1 L1117.6,719.2 L1124.0,739.2 L1127.0,746.6 L1130.7,753.2 L1135.5,759.5 L1141.9,766.6 L1143.8,768.2 L1146.0,769.4 L1148.4,769.9 L1150.8,769.6 L1153.6,768.6 L1158.2,766.6 L1160.1,766.1 L1170.5,766.0 L1175.4,765.3 L1177.7,764.5 L1179.4,763.4 L1181.2,761.7 L1183.5,759.0 L1186.6,754.5 L1192.3,745.1 L1194.8,740.2 L1197.5,734.3 L1200.3,727.3 L1206.3,710.4 L1213.2,693.7 L1219.3,675.2 L1224.0,662.5 L1228.4,652.5 L1233.9,641.8 L1239.3,633.4 L1246.0,625.4 L1251.3,620.0 L1258.4,614.5 L1261.4,611.8 L1264.1,608.9 L1273.0,598.1 L1275.6,595.7 L1277.8,594.6 L1280.7,594.2 L1292.6,595.3 L1296.1,595.4 L1299.5,594.6 L1305.3,591.8 L1307.7,590.9 L1310.1,590.7 L1313.0,591.3 L1316.5,593.2 L1320.9,596.5 L1329.8,603.8 L1340.4,613.7 L1344.6,617.2 L1350.0,620.9 L1355.6,624.2 L1359.1,626.0 L1361.5,626.8 L1368.9,627.4 L1373.7,628.7 L1377.5,630.1 L1382.2,632.9 L1392.4,640.1 L1398.3,643.9 L1408.9,649.4 L1423.9,656.5 L1427.6,657.8 L1432.0,658.9 L1443.4,660.1 L1458.4,661.0 L1462.9,661.0 L1466.9,660.7 L1470.3,660.1 L1473.7,659.1 L1479.5,656.2 L1481.8,655.3 L1484.8,655.0 L1493.3,654.8 L1497.7,654.0 L1501.0,652.9 L1504.1,651.3 L1506.5,648.8 L1511.5,640.7 L1521.1,626.1 L1527.8,617.4 L1530.1,614.8 L1532.3,612.7 L1534.0,611.6 L1535.3,611.1 L1536.8,611.0 L1538.7,611.3 L1541.8,612.9 L1546.8,617.1" fill="none" stroke="#DB6777" stroke-width="3.0" stroke-linejoin="round" stroke-linecap="round"/>
<line x1="144.25" y1="225" x2="144.25" y2="927.5" stroke="#222" stroke-width="1.8"/>
<line x1="144.25" y1="927.5" x2="1657" y2="927.5" stroke="#222" stroke-width="1.8"/>
<line x1="144.25" y1="693.33" x2="1657" y2="693.33" stroke="#222" stroke-width="1.8"/>
<text x="1565.61" y="496.30" font-size="24.29" font-weight="bold" stroke="#E0743A" stroke-width="0.8" stroke-linejoin="round" fill="#E0743A" textLength="81.22" lengthAdjust="spacingAndGlyphs">17.2%</text>
<text x="1564.53" y="530.20" font-size="25.02" font-weight="bold" stroke="#A583C8" stroke-width="0.8" stroke-linejoin="round" fill="#A583C8" textLength="84.63" lengthAdjust="spacingAndGlyphs">14.6%</text>
<text x="1565.58" y="564.80" font-size="23.85" font-weight="bold" stroke="#62AE85" stroke-width="0.8" stroke-linejoin="round" fill="#62AE85" textLength="82.46" lengthAdjust="spacingAndGlyphs">12.8%</text>
<text x="1569.69" y="608.50" font-size="24.29" font-weight="bold" stroke="#F2C940" stroke-width="0.8" stroke-linejoin="round" fill="#F2C940" textLength="70.24" lengthAdjust="spacingAndGlyphs">7.8%</text>
<text x="1569.83" y="642.40" font-size="24.44" font-weight="bold" stroke="#E0646F" stroke-width="0.8" stroke-linejoin="round" fill="#E0646F" textLength="71.21" lengthAdjust="spacingAndGlyphs">6.4%</text>
<text x="1569.33" y="675.10" font-size="26.04" font-weight="bold" stroke="#35C6CE" stroke-width="0.8" stroke-linejoin="round" fill="#35C6CE" textLength="71.72" lengthAdjust="spacingAndGlyphs">4.5%</text>
<text x="56.37" y="1041.00" font-size="27.93" fill="#555" textLength="263.11" lengthAdjust="spacingAndGlyphs">Source: PropTrack</text>
<ellipse cx="1558.3" cy="1027.6" rx="17.9" ry="16.3" fill="#1b191c"/>
<path d="M1551.4,1036.2 L1551.4,1028.9 L1548.2,1027.8 L1558.2,1018.6 L1568.6,1027.8 L1565.3,1028.9 L1565.3,1036.2 Z" fill="none" stroke="#adadad" stroke-width="1.7" stroke-linejoin="round"/>
<text x="1580.24" y="1034.80" font-size="19.64" font-weight="bold" fill="#333" textLength="98.54" lengthAdjust="spacingAndGlyphs">PropTrack</text>
</svg></body></html>
